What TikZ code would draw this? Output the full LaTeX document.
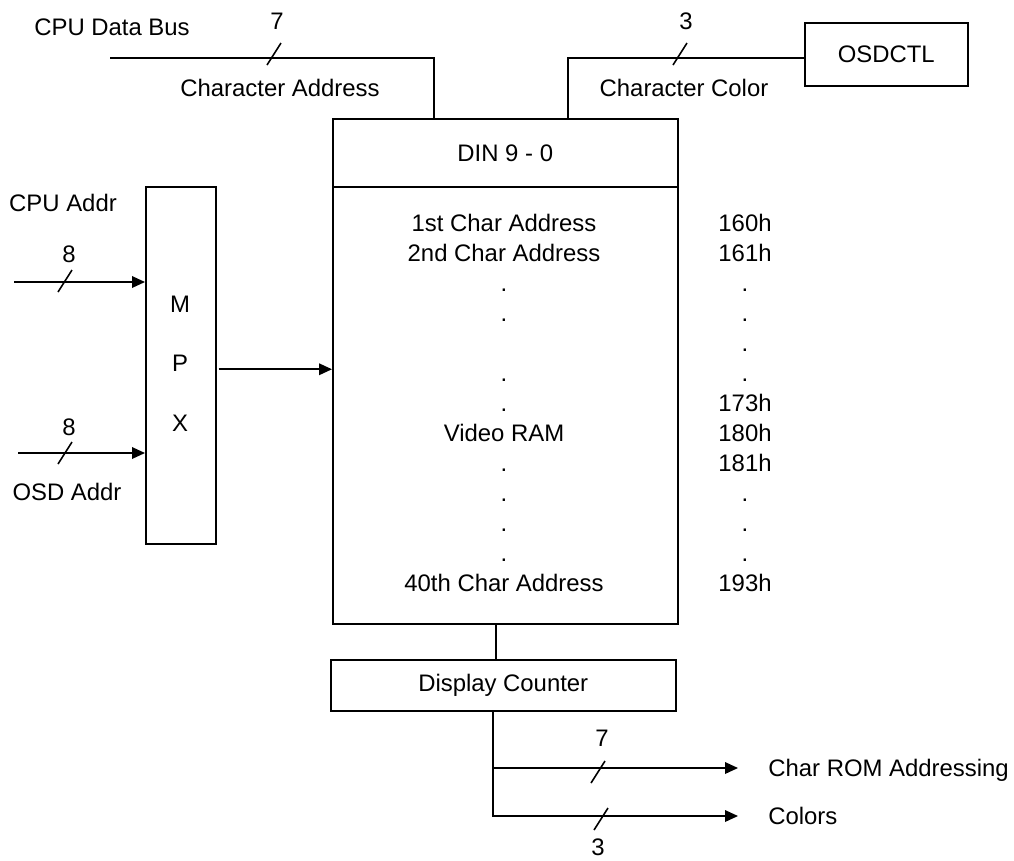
\documentclass[tikz,border=0pt]{standalone}
\usepackage{fontspec}
\setmainfont{Liberation Sans}
\usepackage{tikz}
\usetikzlibrary{arrows.meta,positioning,calc}

\begin{document}
\begin{tikzpicture}[x=0.02cm,y=-0.02cm,
    blk/.style={draw,line width=0.9pt,inner sep=0pt,anchor=north west,font=\fontsize{13.6}{16}\selectfont},
    lbl/.style={inner sep=0pt,font=\fontsize{13.6}{16}\selectfont,text height=9.7pt,text depth=0pt},
    bus/.style={line width=0.9pt},
    arr/.style={bus,-{Triangle[length=7.4pt,width=6.6pt]}}]
    \useasboundingbox (0,0) rectangle (1014,860);

    % Blocks
    \node[blk,minimum width=6.9cm,minimum height=1.36cm] (din) at (332,118) {DIN 9 - 0};
    \node[blk,minimum width=6.9cm,minimum height=8.74cm] (vram) at (332,186) {};
    \node[blk,minimum width=1.4cm,minimum height=7.14cm] (mpx) at (145,186) {};
    \node[blk,minimum width=3.26cm,minimum height=1.26cm] (osdctl) at (804,22) {OSDCTL};
    \node[blk,minimum width=6.9cm,minimum height=1.02cm] (dispcnt) at (330,659) {Display Counter};

    % MPX letters
    \node[lbl] (mpxm) at (180,304) {M};
    \node[lbl] (mpxp) at (180,363) {P};
    \node[lbl] (mpxx) at (180,423) {X};

    % Video RAM contents and addresses
    \foreach \i/\t in {0/1st Char Address, 1/2nd Char Address, 2/., 3/., 5/., 6/., 7/Video RAM, 8/., 9/., 10/., 11/., 12/40th Char Address}
        \node[lbl] (row\i) at (504,{223+30*\i}) {\t};
    \foreach \i/\t in {0/160h, 1/161h, 2/., 3/., 4/., 5/., 6/173h, 7/180h, 8/181h, 9/., 10/., 11/., 12/193h}
        \node[lbl] (addr\i) at (745,{223+30*\i}) {\t};

    % Labels
    \node[lbl] (cpubuslbl) at (112,27) {CPU Data Bus};
    \node[lbl] (w7a) at (277,21) {7};
    \node[lbl] (charaddr) at (280,88) {Character Address};
    \node[lbl] (w3a) at (686,21) {3};
    \node[lbl] (charcol) at (684,88) {Character Color};
    \node[lbl] (cpuaddr) at (63,203) {CPU Addr};
    \node[lbl] (w8a) at (69,254) {8};
    \node[lbl] (w8b) at (69,427) {8};
    \node[lbl] (osdaddr) at (67,492) {OSD Addr};
    \node[lbl] (w7b) at (602,738) {7};
    \node[lbl] (w3b) at (598,847) {3};
    \node[lbl,anchor=west] (romlbl) at (768,768) {Char ROM Addressing};
    \node[lbl,anchor=west] (collbl) at (768,816) {Colors};

    % Buses
    \coordinate (cpubus) at (110,58);
    \coordinate (cpuin) at (14,282);
    \coordinate (osdin) at (18,453);
    \draw[bus] (cpubus) -| ($(din.north west)+(102,0)$);
    \draw[bus] (osdctl.west |- cpubus) -| ($(din.north west)+(236,0)$);
    \draw[arr] (cpuin) -- (cpuin -| mpx.west);
    \draw[arr] (osdin) -- (osdin -| mpx.west);
    \draw[arr] ($(mpx.east)+(2,4)$) -- ($(mpx.east -| vram.west)+(0,4)$);
    \draw[bus] ($(vram.south west)+(164,0)$) -- ($(dispcnt.north west)+(166,0)$);
    \draw[arr] ($(dispcnt.south west)+(163,0)$) |- ($(romlbl.west)+(-30,0)$);
    \draw[arr] ($(dispcnt.south west)+(163,0)$) |- ($(collbl.west)+(-30,0)$);

    % bus width slashes
    \foreach \x/\y in {274/54, 680/54, 65/281, 65/453, 598/772, 601/819}
        \draw[bus] ($(\x,\y)+(-7,11)$) -- ($(\x,\y)+(7,-11)$);
\end{tikzpicture}
\end{document}
